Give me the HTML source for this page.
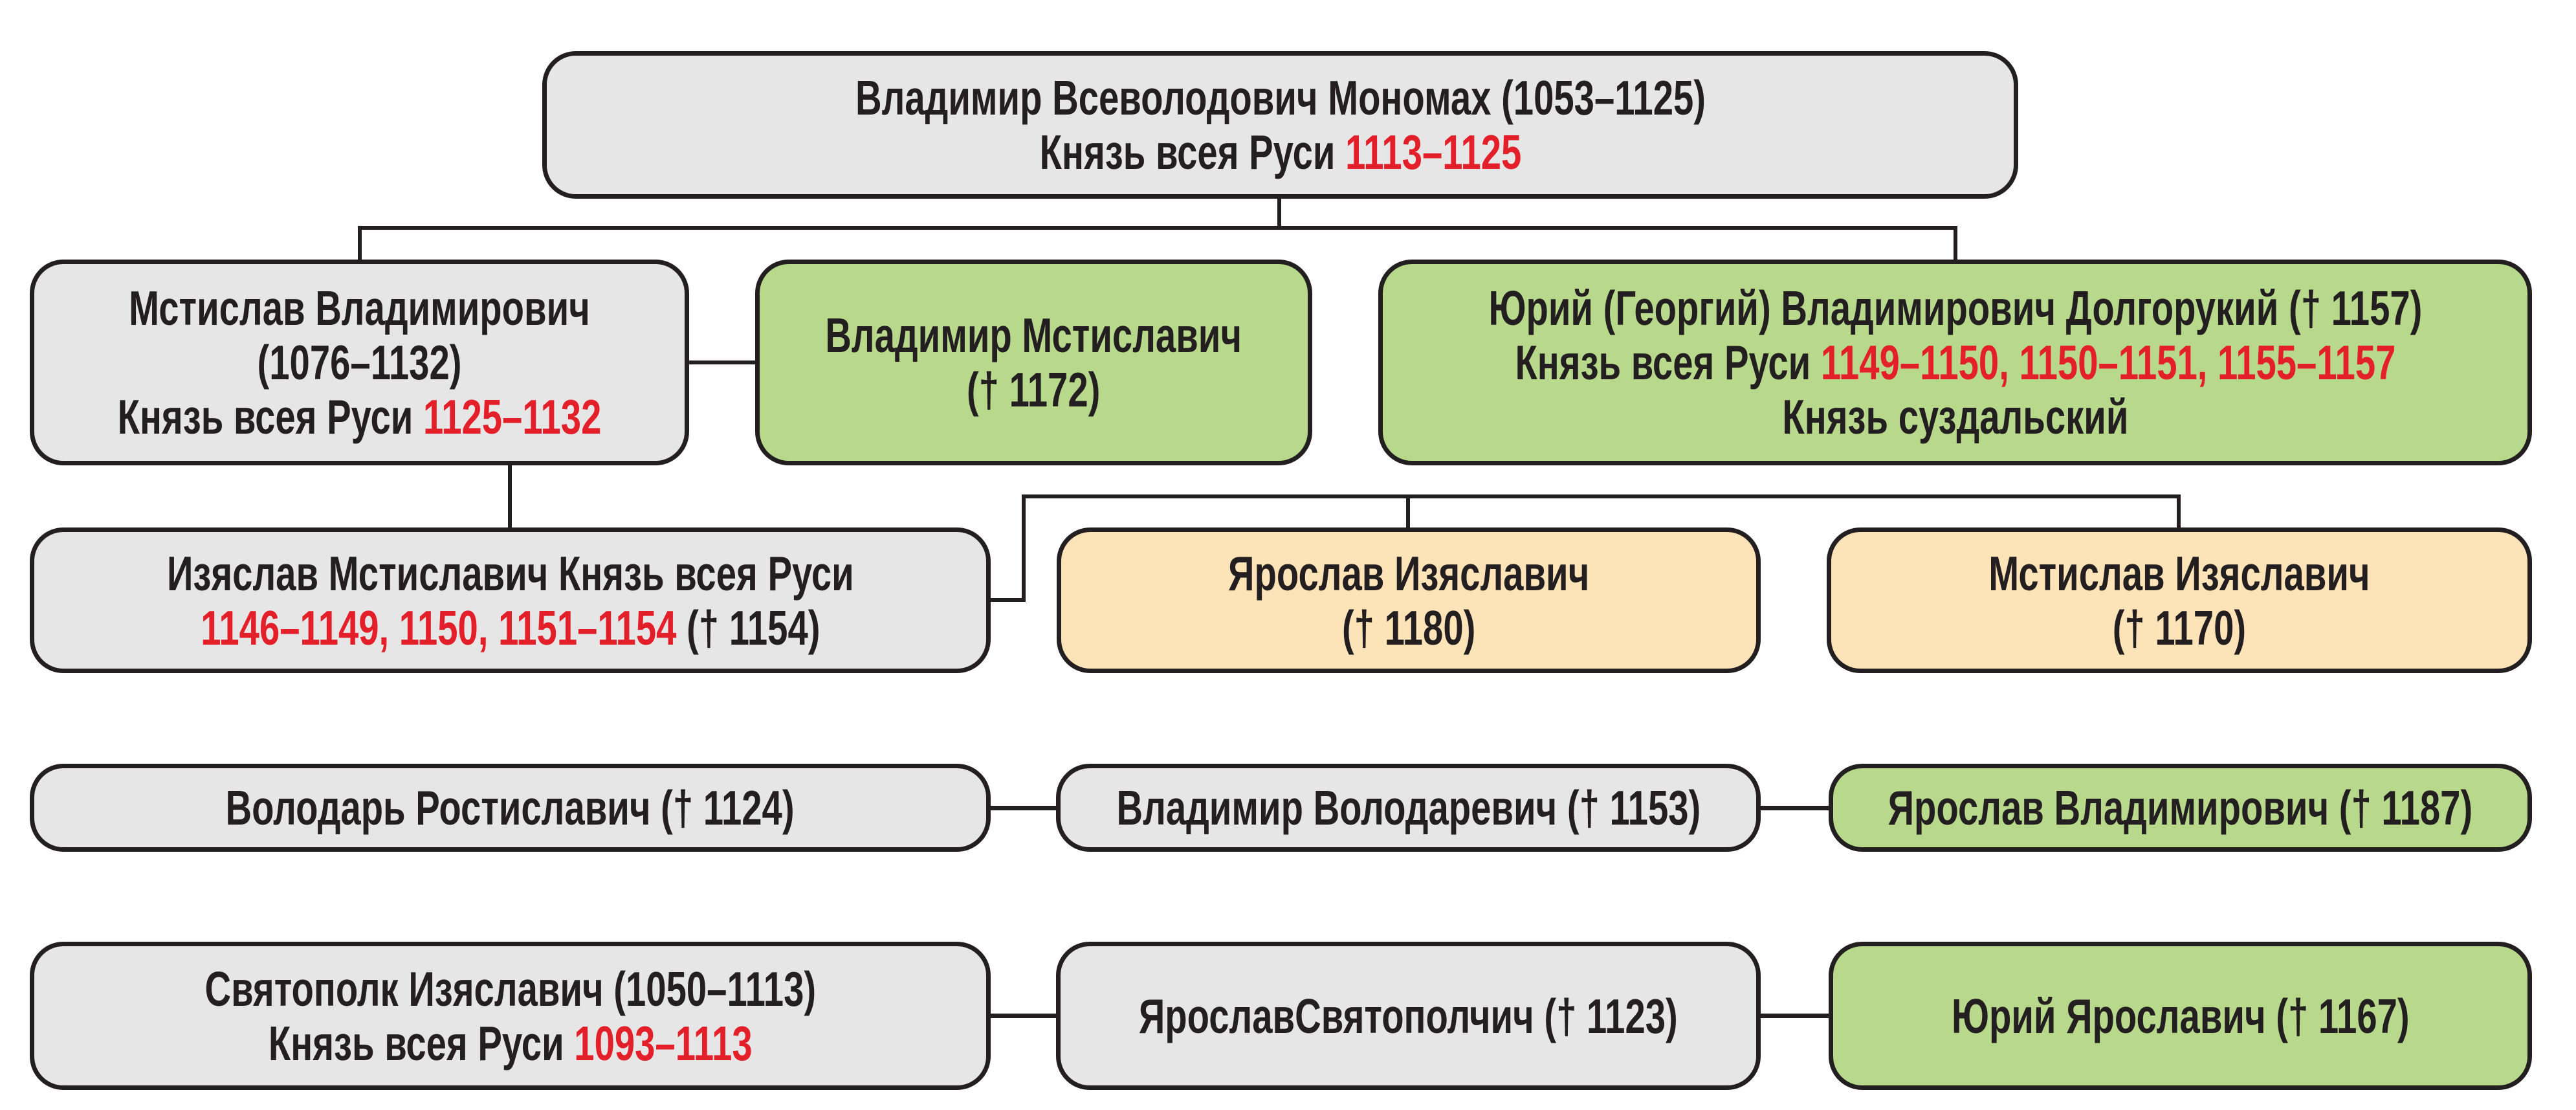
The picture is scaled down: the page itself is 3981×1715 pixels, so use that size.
<!DOCTYPE html>
<html><head><meta charset="utf-8"><style>
html,body{margin:0;padding:0;background:#fff;}
#c{position:relative;width:3981px;height:1715px;overflow:hidden;background:#fff;}
.b{position:absolute;box-sizing:border-box;border:7px solid #231f20;border-radius:52px;display:flex;align-items:center;justify-content:center;text-align:center;font-family:"Liberation Sans",sans-serif;font-weight:bold;font-size:75px;line-height:84px;color:#231f20;}
.b>div{white-space:nowrap;transform:scaleX(0.75);}
.g{background:#e6e6e7}.gr{background:#b8d98c}.p{background:#fde3b8}
.r{color:#e3202a}
.l{position:absolute;background:#231f20;}
</style></head><body><div id="c">
<div class="l" style="left:1974px;top:307px;width:6px;height:47px"></div>
<div class="l" style="left:553px;top:349px;width:2472px;height:6px"></div>
<div class="l" style="left:553px;top:349px;width:6px;height:52px"></div>
<div class="l" style="left:3019px;top:349px;width:6px;height:52px"></div>
<div class="l" style="left:1065px;top:557px;width:102px;height:6px"></div>
<div class="l" style="left:785px;top:719px;width:6px;height:96px"></div>
<div class="l" style="left:1531px;top:924px;width:54px;height:6px"></div>
<div class="l" style="left:1579px;top:764px;width:6px;height:166px"></div>
<div class="l" style="left:1579px;top:764px;width:1791px;height:6px"></div>
<div class="l" style="left:2173px;top:764px;width:6px;height:51px"></div>
<div class="l" style="left:3364px;top:764px;width:6px;height:51px"></div>
<div class="l" style="left:1523px;top:1245px;width:112px;height:7px"></div>
<div class="l" style="left:2716px;top:1245px;width:112px;height:7px"></div>
<div class="l" style="left:1523px;top:1566px;width:112px;height:7px"></div>
<div class="l" style="left:2716px;top:1566px;width:112px;height:7px"></div>
<div class="b g" style="left:838px;top:79px;width:2281px;height:228px"><div>Владимир Всеволодович Мономах (1053–1125)<br>Князь всея Руси <span class="r">1113–1125</span></div></div>
<div class="b g" style="left:46px;top:401px;width:1019px;height:318px"><div>Мстислав Владимирович<br>(1076–1132)<br>Князь всея Руси <span class="r">1125–1132</span></div></div>
<div class="b gr" style="left:1167px;top:401px;width:861px;height:318px"><div>Владимир Мстиславич<br>(† 1172)</div></div>
<div class="b gr" style="left:2130px;top:401px;width:1783px;height:318px"><div>Юрий (Георгий) Владимирович Долгорукий († 1157)<br>Князь всея Руси <span class="r">1149–1150, 1150–1151, 1155–1157</span><br>Князь суздальский</div></div>
<div class="b g" style="left:46px;top:815px;width:1485px;height:225px"><div>Изяслав Мстиславич Князь всея Руси<br><span class="r">1146–1149, 1150, 1151–1154</span> († 1154)</div></div>
<div class="b p" style="left:1633px;top:815px;width:1088px;height:225px"><div>Ярослав Изяславич<br>(† 1180)</div></div>
<div class="b p" style="left:2823px;top:815px;width:1090px;height:225px"><div>Мстислав Изяславич<br>(† 1170)</div></div>
<div class="b g" style="left:46px;top:1180px;width:1485px;height:136px"><div>Володарь Ростиславич († 1124)</div></div>
<div class="b g" style="left:1632px;top:1180px;width:1089px;height:136px"><div>Владимир Володаревич († 1153)</div></div>
<div class="b gr" style="left:2826px;top:1180px;width:1087px;height:136px"><div>Ярослав Владимирович († 1187)</div></div>
<div class="b g" style="left:46px;top:1455px;width:1485px;height:229px"><div>Святополк Изяславич (1050–1113)<br>Князь всея Руси <span class="r">1093–1113</span></div></div>
<div class="b g" style="left:1632px;top:1455px;width:1089px;height:229px"><div>ЯрославСвятополчич († 1123)</div></div>
<div class="b gr" style="left:2826px;top:1455px;width:1087px;height:229px"><div>Юрий Ярославич († 1167)</div></div>
</div></body></html>
